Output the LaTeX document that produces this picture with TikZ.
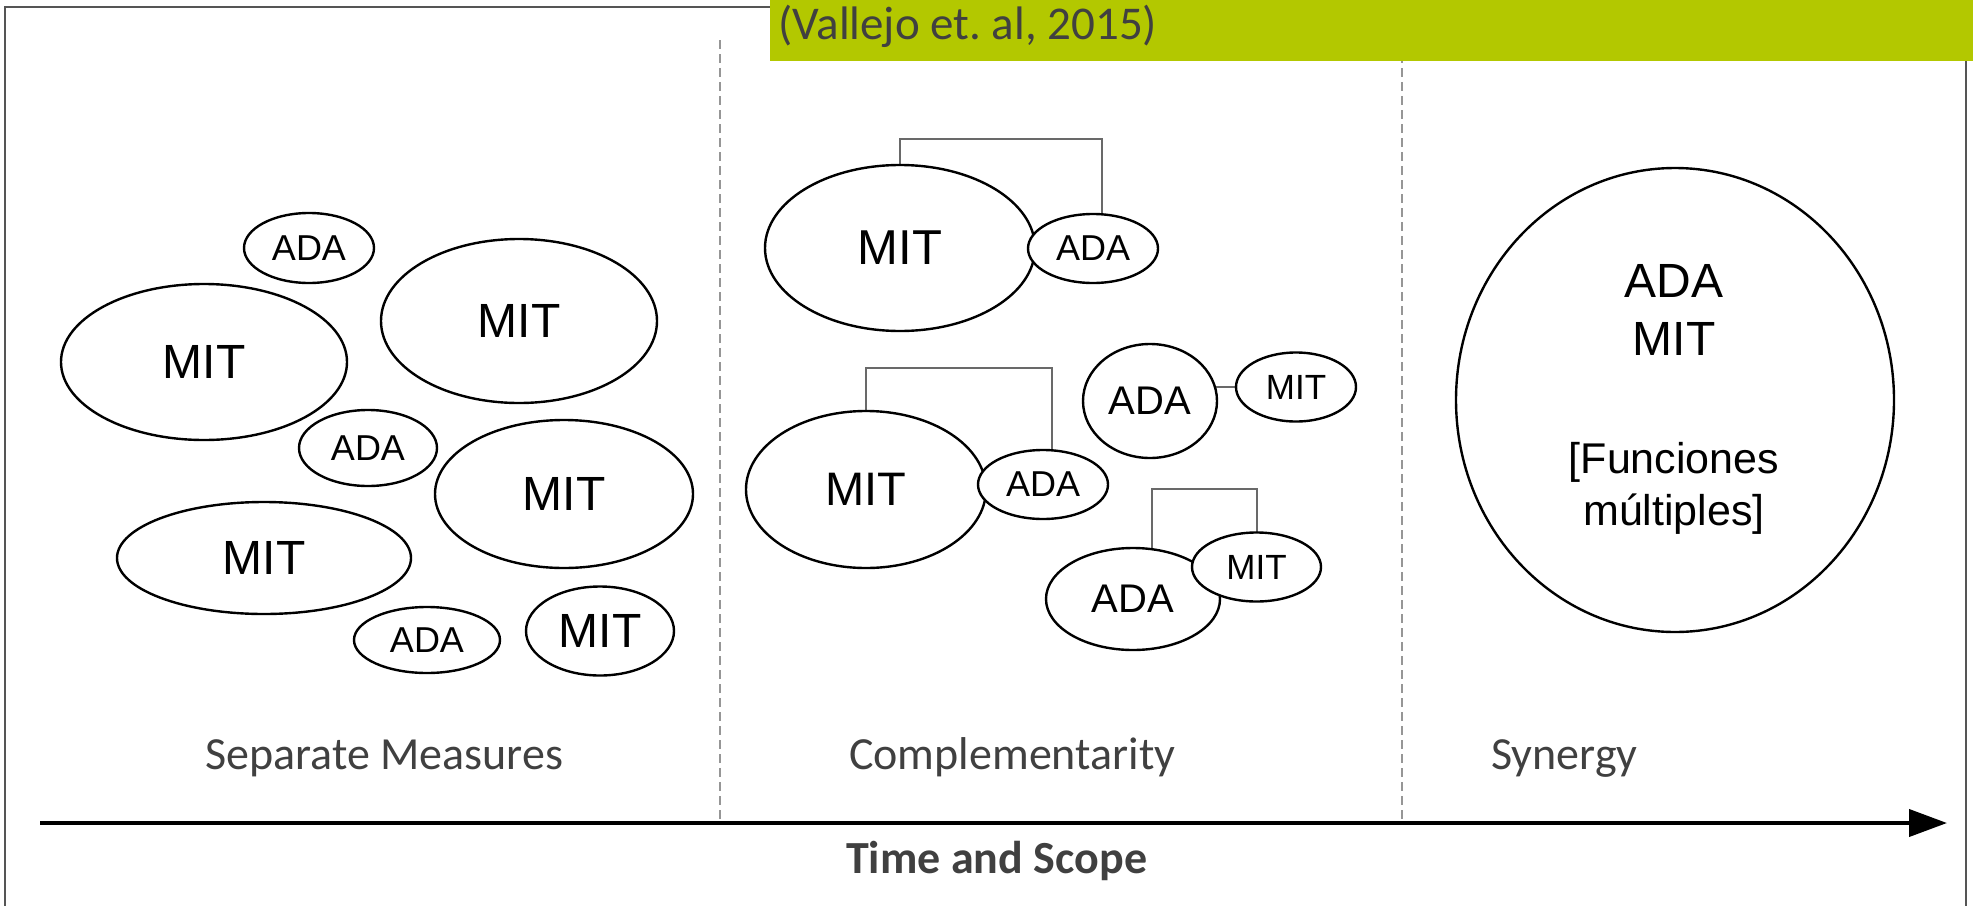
\documentclass[tikz,border=0pt]{standalone}
\usepackage{fontspec}
\usetikzlibrary{shapes.geometric,arrows.meta,backgrounds,calc}
\newfontfamily\arialf{Liberation Sans}
\newfontfamily\calib{Carlito}
\definecolor{vgreen}{RGB}{179,200,0}
\definecolor{txtgray}{RGB}{64,64,64}
\definecolor{framegray}{RGB}{85,85,85}
\definecolor{dashgray}{RGB}{150,150,150}
\definecolor{conngray}{RGB}{105,105,105}
\begin{document}
\frenchspacing
\begin{tikzpicture}[x=1pt,y=-1pt,
  ell/.style 2 args={ellipse, draw=black, fill=white, line width=2.4pt, inner sep=0pt,
     minimum width=#1pt, minimum height=#2pt},
  fs/.style={font=\arialf\fontsize{#1}{#1}\selectfont},
  conn/.style={draw=conngray, line width=2pt},
  divider/.style={draw=dashgray, line width=1.6pt, dash pattern=on 9pt off 5pt},
  lab/.style={anchor=base west, inner sep=0pt, text=txtgray, font=\calib\fontsize{46}{50}\selectfont},
  syn/.style={anchor=base, inner sep=0pt, font=\arialf\fontsize{#1}{#1}\selectfont}
]
\useasboundingbox (0,0) rectangle (1973,905);
\clip (0,0) rectangle (1973,905);

% frame
\coordinate (fbl) at (5,915);
\coordinate (ftl) at (5,7);
\coordinate (ftr) at (1966,7);
\coordinate (fbr) at (1966,915);
\draw[framegray, line width=2.5pt] (fbl) -- (ftl) -- (ftr) -- (fbr);

% dividers
\coordinate (d1t) at (720,40);
\coordinate (d1b) at (720,823);
\coordinate (d2t) at (1402,40);
\coordinate (d2b) at (1402,823);
\draw[divider] (d1t) -- (d1b);
\draw[divider] (d2t) -- (d2b);

% header box
\node[fill=vgreen, anchor=north west, inner sep=0pt, minimum width=1210pt, minimum height=61pt] (gbox) at (770,0) {};
\node[anchor=base west, inner sep=0pt, text=txtgray, font=\calib\fontsize{47}{50}\selectfont] (ref) at (778,39) {(Vallejo et. al, 2015)};

% Separate measures
\node[ell={130}{70}, fs=36] (s1) at (309,248) {ADA};
\node[ell={286}{156}, fs=48] (s2) at (204,362) {MIT};
\node[ell={276}{164}, fs=48] (s3) at (519,321) {MIT};
\node[ell={138}{76}, fs=36] (s4) at (368,448) {ADA};
\node[ell={258}{148}, fs=48] (s5) at (564,494) {MIT};
\node[ell={294}{112}, fs=48] (s6) at (264,558) {MIT};
\node[ell={146}{66}, fs=36] (s7) at (427,640) {ADA};
\node[ell={148}{89}, fs=48] (s8) at (600,631) {MIT};

% Complementarity
\node[ell={270}{166}, fs=49] (c1) at (900,248) {MIT};
\node[ell={130}{69}, fs=36] (c2) at (1093,248.5) {ADA};
\node[ell={240}{157}, fs=47] (c3) at (866,489.5) {MIT};
\node[ell={130}{69}, fs=36] (c4) at (1043,484.5) {ADA};
\node[ell={134}{114}, fs=40] (c5) at (1150,401) {ADA};
\node[ell={120}{69}, fs=35] (c6) at (1296,387) {MIT};
\node[ell={174}{102}, fs=40] (c7) at (1133,599) {ADA};
\node[ell={129}{69}, fs=35] (c8) at (1256.5,567) {MIT};

\begin{pgfonlayer}{background}
\draw[conn] (c1.center) -- (c1.center |- 0,139) -| ($(c2.center)+(9,0)$);
\draw[conn] (c3.center) -- (c3.center |- 0,368) -| ($(c4.center)+(9,0)$);
\draw[conn] ($(c7.center)+(19,0)$) -- ($(c7.center |- 0,489)+(19,0)$) -| (c8.center);
\draw[conn] (c6.center) -- (c6.center -| c5.center);
\end{pgfonlayer}

% Synergy
\node[ell={438}{464}] (sy) at (1675,400) {};
\node[syn=48] (sy1) at (1674,297) {ADA};
\node[syn=48] (sy2) at (1674,355) {MIT};
\node[syn=43] (sy3) at (1674,473) {[Funciones};
\node[syn=43] (sy4) at (1674,525) {múltiples]};

% phase labels
\node[lab] (l1) at (205,769) {Separate Measures};
\node[lab] (l2) at (849,769) {Complementarity};
\node[lab] (l3) at (1491,769) {Synergy};

% axis
\coordinate (ax1) at (40,823);
\coordinate (ax2) at (1947,823);
\draw[black, line width=4pt, -{Triangle[length=38pt,width=27pt]}] (ax1) -- (ax2);
\node[lab, font=\calib\bfseries\fontsize{46}{50}\selectfont] (tax) at (846,873) {Time and Scope};
\end{tikzpicture}
\end{document}
